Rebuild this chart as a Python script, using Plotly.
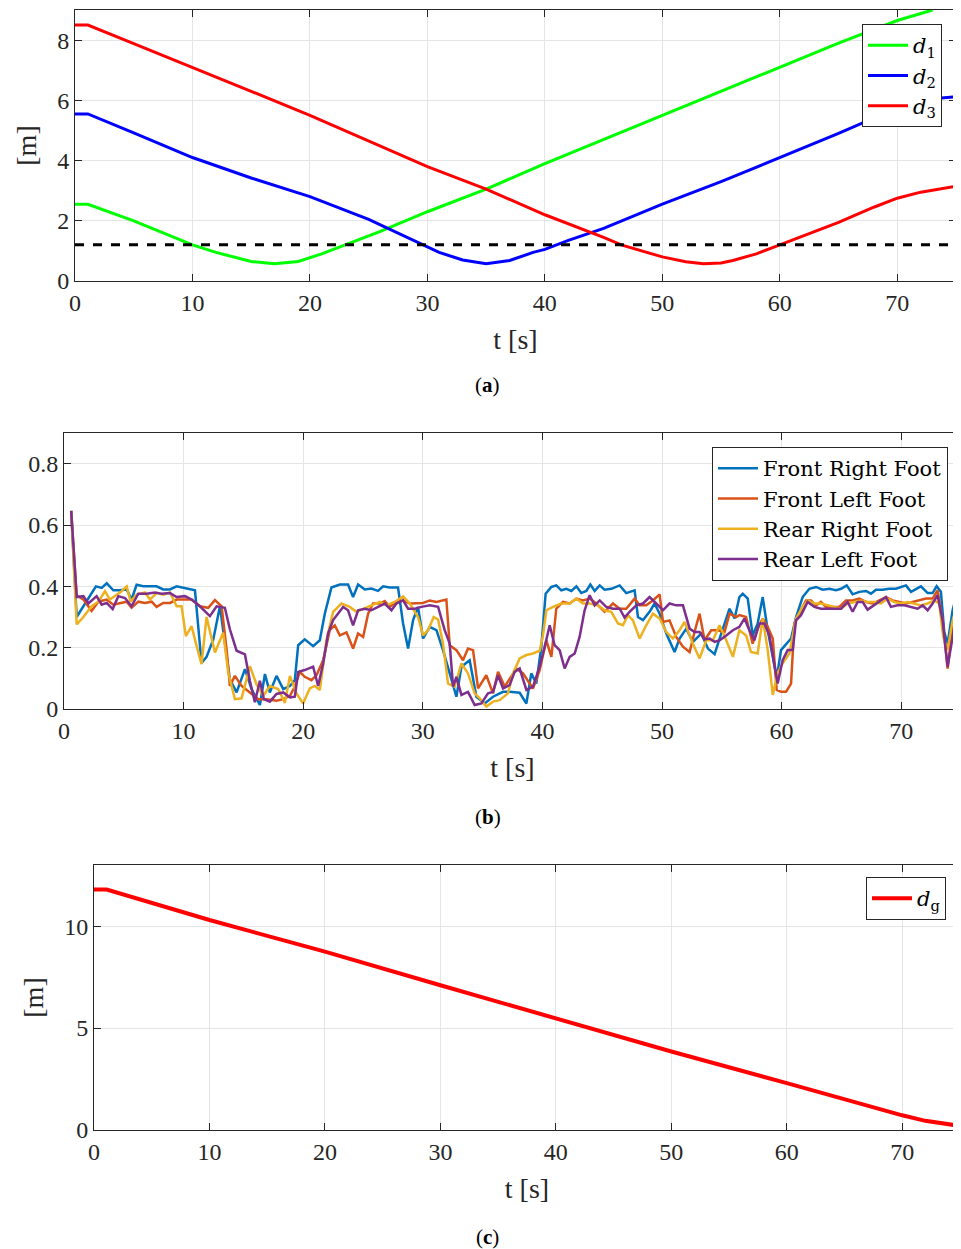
import plotly.graph_objects as go

# ---------------- Panel (a): distances to obstacles ----------------
t_d1 = [0, 1.1, 5, 7, 10, 12, 15, 17, 19, 21, 23, 26, 30, 35, 40, 45, 50, 55, 60, 65, 70, 73]
d1 = [2.55, 2.55, 2.0, 1.68, 1.2, 0.95, 0.65, 0.57, 0.65, 0.9, 1.2, 1.65, 2.3, 3.05, 3.9, 4.7, 5.5, 6.3, 7.1, 7.9, 8.65, 9.0]

t_d2 = [0, 1.1, 5, 10, 15, 20, 25, 29, 31, 33, 35, 37, 39, 40, 42, 45, 50, 55, 60, 65, 70, 73, 75]
d2 = [5.55, 5.55, 4.92, 4.1, 3.42, 2.8, 2.05, 1.3, 0.95, 0.7, 0.57, 0.68, 0.95, 1.05, 1.35, 1.75, 2.55, 3.3, 4.1, 4.9, 5.75, 6.05, 6.12]

t_d3 = [0, 1.1, 5, 10, 15, 20, 25, 30, 35, 40, 45, 46.5, 50, 52, 53.5, 55, 56, 58, 60, 62, 65, 68, 70, 72, 75]
d3 = [8.5, 8.5, 7.88, 7.1, 6.3, 5.5, 4.65, 3.8, 3.05, 2.2, 1.45, 1.2, 0.8, 0.64, 0.57, 0.6, 0.68, 0.9, 1.2, 1.5, 1.95, 2.45, 2.75, 2.95, 3.15]

t_safe = [0, 75]
d_safe = [1.2, 1.2]

# ---------------- Panel (b): foot forces ----------------
t_fr = [0.6, 1.06, 1.62, 2.17, 2.67, 3.15, 3.57, 4.12, 4.68, 5.24, 5.65, 6.07, 6.63, 7.19, 7.74, 8.30, 8.86, 9.42, 9.97,
        10.53, 10.95, 11.50, 11.92, 12.48, 13.04, 13.45, 13.87, 14.43, 15.13, 15.68, 16.38, 16.80, 17.21, 17.77, 18.33, 18.89,
        19.30, 19.58, 20.13, 20.83, 21.39, 21.80, 22.36, 23.06, 23.75, 24.17, 24.59, 25.15, 25.70, 26.26, 26.68, 27.24, 27.93,
        28.35, 28.77, 29.19, 29.60, 30.02, 30.58, 31.14, 31.69, 32.25, 32.81, 33.23, 33.92, 34.48, 35.18, 35.87, 36.71, 37.26, 38.10,
        38.66, 39.07, 39.49, 39.91, 40.27, 40.75, 41.16, 41.58, 42.00, 42.42, 42.84, 43.25, 43.67, 44.01, 44.37, 44.79, 45.20,
        45.76, 46.46, 47.01, 47.71, 47.99, 48.41, 48.96, 49.38, 49.80, 50.36, 51.05, 51.47, 52.03, 52.58, 53.28, 53.84, 54.40,
        54.95, 55.65, 56.07,
        56.47, 56.75, 57.17, 57.58, 58.00, 58.42, 58.84, 59.26, 59.59, 59.95, 60.37, 60.79, 61.21, 61.76, 62.32, 62.88, 63.43,
        63.99, 64.55, 64.97, 65.44, 65.94, 66.50, 67.06, 67.47, 67.89, 68.45, 69.00, 69.56, 69.98, 70.40, 70.82, 71.23, 71.65,
        72.21, 72.63, 72.96, 73.32, 73.60, 73.88, 74.30, 74.72]
f_fr = [0.646, 0.30, 0.335, 0.37, 0.40, 0.395, 0.41, 0.387, 0.387, 0.39, 0.357, 0.405, 0.40, 0.40, 0.40, 0.39, 0.39, 0.40, 0.395,
        0.39, 0.387, 0.15, 0.17, 0.227, 0.335, 0.216, 0.097, 0.054, 0.13, 0.065, 0.013, 0.114, 0.054, 0.108, 0.065, 0.075,
        0.094, 0.208, 0.227, 0.205, 0.224, 0.31, 0.396, 0.406, 0.406, 0.365, 0.406, 0.39, 0.393, 0.385, 0.40, 0.396, 0.396,
        0.279, 0.197, 0.29, 0.333, 0.23, 0.268, 0.257, 0.192, 0.116, 0.04, 0.138, 0.159, 0.04, 0.018, 0.04, 0.056, 0.056, 0.053,
        0.018, 0.116, 0.083, 0.203, 0.376, 0.398, 0.403, 0.387, 0.392, 0.385, 0.40, 0.378, 0.385, 0.406, 0.385, 0.403, 0.389,
        0.392, 0.403, 0.378, 0.387, 0.30, 0.29, 0.317, 0.344, 0.311, 0.246, 0.186, 0.23, 0.262, 0.219, 0.246, 0.197, 0.179,
        0.246, 0.327, 0.295,
        0.365, 0.376, 0.36, 0.24, 0.279, 0.365, 0.257, 0.17, 0.10, 0.192, 0.213, 0.23, 0.30, 0.365, 0.392, 0.398, 0.389,
        0.392, 0.387, 0.392, 0.403, 0.374, 0.382, 0.385, 0.376, 0.389, 0.389, 0.392, 0.392, 0.398, 0.403, 0.382, 0.392, 0.40,
        0.378, 0.378, 0.40, 0.382, 0.251, 0.213, 0.322, 0.387]

t_fl = [0.6, 1.06, 1.62, 2.31, 2.87, 3.57, 4.12, 4.68, 5.24, 5.65, 6.21, 6.77, 7.33, 7.74, 8.30, 8.86, 9.42, 9.97, 10.67,
        11.36, 12.06, 12.62, 13.18, 13.59, 13.87, 14.29, 14.85, 15.54, 16.24, 16.94, 17.77, 18.33, 18.89,
        19.30, 19.72, 20.13, 20.69, 21.11, 21.67, 22.22, 22.64, 23.06, 23.62, 24.17, 24.59, 25.01, 25.43, 25.84, 26.40, 26.82,
        27.24, 27.79, 28.35, 28.91, 29.47, 30.02, 30.58, 31.14, 31.97, 32.25, 32.81, 33.36, 33.78, 34.20, 34.62, 35.31, 35.87,
        36.29, 36.85, 37.40, 37.82, 38.38,
        38.66, 39.21, 39.77, 40.33, 40.75, 41.16, 41.72, 42.28, 42.84, 43.39, 43.95, 44.51, 45.20, 45.90, 46.46, 47.01, 47.71,
        48.13, 48.68, 49.24, 49.80, 50.08, 50.63, 51.19, 51.75, 52.31, 52.72, 53.14, 53.56, 54.12, 54.67, 55.23, 55.65, 56.21,
        56.47, 57.03, 57.58, 58.00, 58.42, 58.84, 59.26, 59.59, 59.95, 60.37, 60.79, 61.07, 61.48, 62.04, 62.46, 62.88, 63.29,
        63.71, 64.27, 64.83, 65.38, 65.94, 66.50, 67.06, 67.61, 68.17, 68.73, 69.28, 69.84, 70.40, 70.95, 71.51, 72.07, 72.63,
        73.04, 73.46, 73.88, 74.30, 74.72]
f_fl = [0.646, 0.37, 0.357, 0.32, 0.35, 0.357, 0.34, 0.346, 0.35, 0.33, 0.35, 0.346, 0.35, 0.333, 0.346, 0.346, 0.357, 0.357, 0.357,
        0.335, 0.33, 0.355, 0.335, 0.195, 0.075, 0.108, 0.075, 0.054, 0.032, 0.032, 0.027, 0.032, 0.043,
        0.073, 0.121, 0.105, 0.094, 0.11, 0.159, 0.257, 0.273, 0.24, 0.25, 0.197, 0.246, 0.235, 0.311, 0.344, 0.344, 0.352,
        0.333, 0.349, 0.354, 0.344, 0.346, 0.346, 0.354, 0.349, 0.357, 0.208, 0.192, 0.159, 0.197, 0.192, 0.067, 0.11, 0.051,
        0.121, 0.073, 0.105, 0.132, 0.116,
        0.10, 0.067, 0.127, 0.224, 0.17, 0.327, 0.349, 0.344, 0.36, 0.354, 0.36, 0.344, 0.317, 0.344, 0.327, 0.327, 0.36,
        0.338, 0.338, 0.354, 0.374, 0.284, 0.289, 0.235, 0.203, 0.186, 0.251, 0.311, 0.224, 0.257, 0.257, 0.251, 0.311, 0.30,
        0.306, 0.30, 0.213, 0.262, 0.295, 0.268, 0.23, 0.062, 0.056, 0.056, 0.083, 0.279, 0.311, 0.354, 0.354, 0.338, 0.349,
        0.333, 0.333, 0.333, 0.354, 0.354, 0.36, 0.349, 0.344, 0.354, 0.365, 0.354, 0.349, 0.344, 0.349, 0.354, 0.36, 0.36,
        0.387, 0.289, 0.132, 0.268, 0.344]

t_rr = [0.6, 1.06, 1.62, 2.31, 2.87, 3.43, 3.84, 4.40, 4.82, 5.24, 5.57, 6.07, 6.77, 7.19, 7.74, 8.30, 8.86, 9.42, 9.83,
        10.19, 10.67, 11.09, 11.50, 11.92, 12.62, 13.31, 13.73, 14.29, 14.85, 15.54, 16.10, 16.66, 17.21, 17.91, 18.47, 18.89,
        19.44, 19.99, 20.55, 20.97, 21.39, 21.94, 22.50, 23.20, 23.89, 24.45, 25.01, 25.70, 26.40, 26.96, 27.65, 28.35, 28.91,
        29.60, 30.02, 30.44, 30.91, 31.28, 31.69, 32.11, 32.67, 33.23, 33.78, 34.34, 34.76, 35.31, 35.87, 36.43, 37.12, 37.54, 38.10,
        38.66, 39.21, 39.77, 40.05, 40.33, 40.89, 41.58, 42.28, 42.84, 43.39, 43.95, 44.65, 45.20, 45.76, 46.32, 46.74, 47.15,
        47.57, 48.13, 48.68, 49.24, 49.80, 50.36, 50.91, 51.47, 51.89, 52.58, 53.14, 53.70, 54.26, 54.81, 55.37, 55.93,
        56.47, 57.03, 57.44, 58.00, 58.42, 58.84, 59.26, 59.67, 60.09, 60.65, 61.21, 61.76, 62.18, 62.74, 63.29, 63.85, 64.41,
        64.97, 65.52, 66.08, 66.64, 67.19, 67.75, 68.31, 68.87, 69.42, 69.98, 70.54, 71.09, 71.65, 72.21, 72.77, 73.18, 73.52,
        73.88, 74.30, 74.72]
f_rr = [0.646, 0.276, 0.30, 0.335, 0.35, 0.384, 0.357, 0.373, 0.384, 0.40, 0.35, 0.373, 0.38, 0.357, 0.378, 0.373, 0.38, 0.335, 0.335,
        0.238, 0.27, 0.205, 0.146, 0.30, 0.184, 0.249, 0.12, 0.032, 0.035, 0.14, 0.08, 0.043, 0.075, 0.065, 0.02, 0.108,
        0.051, 0.018, 0.067, 0.075, 0.062, 0.224, 0.317, 0.344, 0.333, 0.317, 0.327, 0.338, 0.349, 0.338, 0.349, 0.367, 0.344,
        0.30, 0.24, 0.257, 0.30, 0.292, 0.213, 0.083, 0.073, 0.149, 0.116, 0.051, 0.035, 0.008, 0.024, 0.029, 0.051, 0.116, 0.165,
        0.176, 0.181, 0.19, 0.24, 0.322, 0.333, 0.344, 0.344, 0.36, 0.344, 0.344, 0.338, 0.322, 0.317, 0.279, 0.273, 0.306,
        0.289, 0.23, 0.273, 0.311, 0.295, 0.251, 0.23, 0.257, 0.284, 0.213, 0.165, 0.224, 0.224, 0.273, 0.224, 0.17,
        0.257, 0.24, 0.186, 0.181, 0.295, 0.192, 0.046, 0.116, 0.149, 0.181, 0.295, 0.333, 0.354, 0.344, 0.344, 0.338, 0.333,
        0.327, 0.344, 0.349, 0.354, 0.349, 0.349, 0.344, 0.36, 0.349, 0.344, 0.349, 0.344, 0.338, 0.344, 0.354, 0.344, 0.235,
        0.192, 0.289, 0.344]

t_rl = [0.6, 1.06, 1.62, 2.03, 2.73, 3.15, 3.57, 4.07, 4.54, 5.10, 5.65, 6.21, 6.91, 7.60, 8.16, 8.86, 9.42, 10.11, 10.67,
        11.36, 12.20, 12.76, 13.45, 13.87, 14.43, 15.13, 15.54, 15.96, 16.38, 16.71, 17.21, 17.77, 18.33, 18.89,
        19.30, 19.58, 20.13, 20.83, 21.25, 21.67, 22.08, 22.50, 23.34, 23.75, 24.17, 24.59, 25.15, 25.70, 26.26, 26.82, 27.38,
        27.79, 28.35, 28.77, 29.33, 29.88, 30.58, 31.28, 31.83, 32.25, 32.53, 32.81, 33.23, 33.78, 34.34, 34.90, 35.45, 35.87,
        36.29, 36.71, 37.26, 37.68, 38.10,
        38.66, 39.21, 39.77, 40.19, 40.61, 41.02, 41.44, 41.86, 42.28, 42.70, 43.11, 43.53, 43.95, 44.37, 44.79, 45.34, 45.90,
        46.46, 46.87, 47.29, 47.85, 48.41, 48.96, 49.52, 50.08, 50.63, 51.19, 51.75, 52.31, 52.72, 53.14, 53.56, 53.98, 54.40,
        54.81, 55.37, 55.93,
        56.47, 56.89, 57.31, 57.72, 58.14, 58.56, 58.98, 59.39, 59.67, 60.09, 60.51, 60.93, 61.21, 61.62, 62.18, 62.74, 63.29,
        63.85, 64.41, 64.97, 65.52, 65.94, 66.36, 66.78, 67.19, 67.75, 68.17, 68.73, 69.14, 69.70, 70.26, 70.82, 71.37, 71.79,
        72.21, 72.63, 73.04, 73.46, 73.88, 74.30, 74.72]
f_rl = [0.646, 0.365, 0.368, 0.344, 0.368, 0.34, 0.346, 0.326, 0.368, 0.362, 0.335, 0.376, 0.376, 0.38, 0.376, 0.378, 0.365, 0.368, 0.357,
        0.335, 0.303, 0.335, 0.33, 0.26, 0.19, 0.178, 0.092, 0.022, 0.092, 0.032, 0.024, 0.049, 0.054, 0.038,
        0.04, 0.121, 0.127, 0.138, 0.075, 0.149, 0.246, 0.29, 0.333, 0.322, 0.273, 0.322, 0.327, 0.322, 0.333, 0.344, 0.322,
        0.344, 0.354, 0.327, 0.327, 0.333, 0.338, 0.333, 0.257, 0.213, 0.073, 0.105, 0.046, 0.056, 0.013, 0.018, 0.051, 0.056,
        0.11, 0.067, 0.078, 0.121, 0.132,
        0.062, 0.073, 0.138, 0.203, 0.273, 0.208, 0.192, 0.132, 0.17, 0.181, 0.235, 0.322, 0.371, 0.338, 0.354, 0.333, 0.327,
        0.327, 0.298, 0.317, 0.338, 0.344, 0.365, 0.344, 0.322, 0.344, 0.338, 0.338, 0.262, 0.251, 0.251, 0.227, 0.23, 0.219,
        0.224, 0.24, 0.257,
        0.268, 0.295, 0.257, 0.224, 0.279, 0.279, 0.24, 0.138, 0.083, 0.159, 0.192, 0.192, 0.289, 0.306, 0.349, 0.333, 0.327,
        0.327, 0.327, 0.327, 0.349, 0.317, 0.349, 0.349, 0.324, 0.338, 0.349, 0.365, 0.333, 0.338, 0.338, 0.333, 0.327, 0.338,
        0.322, 0.344, 0.371, 0.289, 0.138, 0.235, 0.338]

# ---------------- Panel (c): distance to goal ----------------
t_dg = [0, 1.1, 10, 20, 30, 40, 50, 60, 65, 70, 72, 75]
dg = [11.8, 11.8, 10.3, 8.75, 7.1, 5.45, 3.85, 2.3, 1.5, 0.72, 0.45, 0.2]

x_ticks = [0, 10, 20, 30, 40, 50, 60, 70]

FONT = "Liberation Serif"
LFONT = "DejaVu Serif"
TXT = "#262626"
GRID = "#e5e5e5"

fig = go.Figure()

# panel a traces
fig.add_trace(go.Scatter(x=t_d1, y=d1, mode="lines", line=dict(color="#00ff00", width=3),
                         name="<i>d</i><sub>1</sub>", xaxis="x", yaxis="y", legend="legend"))
fig.add_trace(go.Scatter(x=t_d2, y=d2, mode="lines", line=dict(color="#0000ff", width=3),
                         name="<i>d</i><sub>2</sub>", xaxis="x", yaxis="y", legend="legend"))
fig.add_trace(go.Scatter(x=t_d3, y=d3, mode="lines", line=dict(color="#ff0000", width=3),
                         name="<i>d</i><sub>3</sub>", xaxis="x", yaxis="y", legend="legend"))
fig.add_trace(go.Scatter(x=t_safe, y=d_safe, mode="lines", line=dict(color="black", width=3, dash="dash"),
                         showlegend=False, xaxis="x", yaxis="y"))

# panel b traces
for tt, ff, col, nm in [(t_fr, f_fr, "#0072BD", "Front Right Foot"),
                        (t_fl, f_fl, "#D95319", "Front Left Foot"),
                        (t_rr, f_rr, "#EDB120", "Rear Right Foot"),
                        (t_rl, f_rl, "#7E2F8E", "Rear Left Foot")]:
    fig.add_trace(go.Scatter(x=tt, y=ff, mode="lines", line=dict(color=col, width=2.5),
                             name=nm, xaxis="x2", yaxis="y2", legend="legend2"))

# panel c trace
fig.add_trace(go.Scatter(x=t_dg, y=dg, mode="lines", line=dict(color="#ff0000", width=4),
                         name="<i>d</i><sub>g</sub>", xaxis="x3", yaxis="y3", legend="legend3"))

# page body has an 8px default margin: size the figure so it fills the window
OFF = 8
W, H = 961 - OFF, 1249 - OFF


def px_x(p):
    return (p - OFF) / W


def px_y(p):
    return 1 - (p - OFF) / H


axis_common = dict(showline=True, linecolor=TXT, linewidth=1, mirror="ticks", ticks="inside",
                   ticklen=7, tickcolor=TXT, showgrid=True, gridcolor=GRID, gridwidth=1,
                   zeroline=False, automargin=False, tickfont=dict(family=FONT, size=24, color=TXT))

xtitle = dict(text="t [s]", font=dict(family=FONT, size=28, color=TXT), standoff=14)
ytitle = dict(text="[m]", font=dict(family=FONT, size=28, color=TXT), standoff=12)

legend_common = dict(xanchor="right", yanchor="top", bgcolor="white", bordercolor=TXT, borderwidth=1,
                     font=dict(family=LFONT, size=21, color="black"), tracegroupgap=0, itemwidth=40)

fig.update_layout(
    width=W, height=H, margin=dict(l=0, r=0, t=0, b=0, autoexpand=False),
    paper_bgcolor="white", plot_bgcolor="white",
    font=dict(family=FONT, color=TXT),
    xaxis=dict(domain=[px_x(75), px_x(956)], range=[0, 75], tickvals=x_ticks, anchor="y",
               title=xtitle, **axis_common),
    yaxis=dict(domain=[px_y(281), px_y(10)], range=[0, 9], dtick=2, anchor="x",
               title=ytitle, **axis_common),
    xaxis2=dict(domain=[px_x(64), px_x(961)], range=[0, 75], tickvals=x_ticks, anchor="y2",
                title=xtitle, **axis_common),
    yaxis2=dict(domain=[px_y(709), px_y(433)], range=[0, 0.9], dtick=0.2, anchor="x2",
                **axis_common),
    xaxis3=dict(domain=[px_x(94), px_x(960)], range=[0, 75], tickvals=x_ticks, anchor="y3",
                title=xtitle, **axis_common),
    yaxis3=dict(domain=[px_y(1130), px_y(865)], range=[0, 13], dtick=5, anchor="x3",
                title=ytitle, **axis_common),
    legend=dict(x=px_x(942), y=px_y(24), **legend_common),
    legend2=dict(x=px_x(948), y=px_y(447), **legend_common),
    legend3=dict(x=px_x(946), y=px_y(877), **legend_common),
    annotations=[
        dict(text="(<b>a</b>)", x=px_x(487), y=px_y(385), xref="paper", yref="paper",
             xanchor="center", yanchor="middle",
             showarrow=False, font=dict(family=FONT, size=21, color="black")),
        dict(text="(<b>b</b>)", x=px_x(488), y=px_y(817), xref="paper", yref="paper",
             xanchor="center", yanchor="middle",
             showarrow=False, font=dict(family=FONT, size=21, color="black")),
        dict(text="(<b>c</b>)", x=px_x(488), y=px_y(1237), xref="paper", yref="paper",
             xanchor="center", yanchor="middle",
             showarrow=False, font=dict(family=FONT, size=21, color="black")),
    ],
)

fig.write_html("out.html")
